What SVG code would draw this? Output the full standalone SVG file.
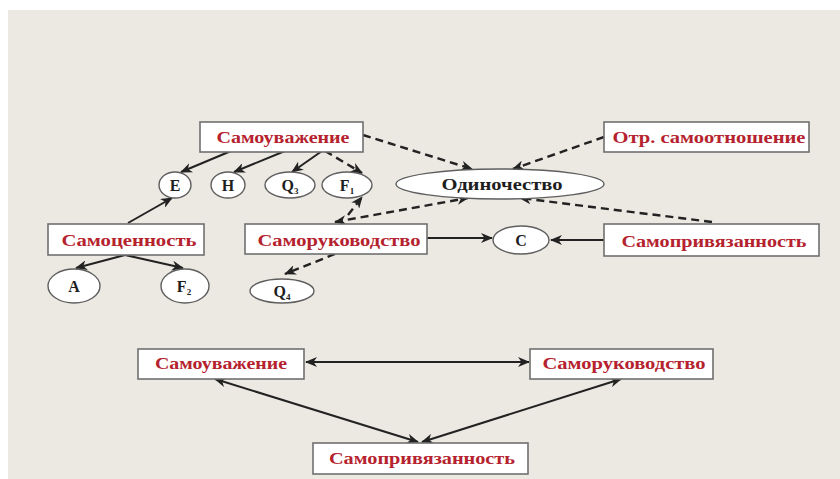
<svg xmlns="http://www.w3.org/2000/svg" width="840" height="479" viewBox="0 0 840 479">
  <style>
    .box { fill: #ffffff; stroke: #707070; stroke-width: 1.6; }
    .oval { fill: #ffffff; stroke: #5e5e5e; stroke-width: 1.4; }
    .lbl { font-family: "Liberation Serif", "Times New Roman", serif; font-weight: bold; font-size: 16.5px; fill: #b5222e; text-anchor: middle; }
    .sym { font-family: "Liberation Serif", "Times New Roman", serif; font-weight: bold; font-size: 16px; fill: #1e1e1e; text-anchor: middle; }
    .sub { font-size: 9px; }
    .solid { fill: none; stroke: #222222; stroke-width: 2; marker-end: url(#head); }
    .dash { fill: none; stroke: #222222; stroke-width: 2.4; stroke-dasharray: 8 5; marker-end: url(#head); }
    .both { marker-start: url(#head); }
  </style>
  <defs>
    <marker id="head" viewBox="0 0 12 10" refX="11" refY="5" markerWidth="12" markerHeight="10" markerUnits="userSpaceOnUse" orient="auto-start-reverse">
      <path d="M0,0 L12,5 L0,10 L3.5,5 z" fill="#222222"/>
    </marker>
  </defs>

  <!-- canvas -->
  <rect x="0" y="0" width="840" height="479" fill="#ffffff"/>
  <rect x="8" y="10" width="832" height="469" fill="#ece9e2"/>

  <!-- connectors -->
  <g id="connectors">
    <line class="solid" x1="231" y1="151" x2="181" y2="172"/>
    <line class="solid" x1="285" y1="151" x2="234" y2="172"/>
    <line class="solid" x1="322" y1="151" x2="292" y2="172"/>
    <line class="dash" x1="325" y1="151" x2="362" y2="173"/>
    <line class="solid" x1="128" y1="223" x2="172" y2="198"/>
    <line class="solid" x1="125" y1="255" x2="76" y2="268"/>
    <line class="solid" x1="125" y1="255" x2="183" y2="268"/>
    <line class="dash" x1="363" y1="135" x2="472" y2="169"/>
    <line class="dash" x1="604" y1="137" x2="513" y2="169"/>
    <line class="dash" x1="712" y1="222" x2="520" y2="198"/>
    <line class="dash both" x1="335" y1="222" x2="468" y2="198"/>
    <line class="dash" x1="348" y1="215" x2="362" y2="197"/>
    <line class="solid" x1="427" y1="238" x2="492" y2="238"/>
    <line class="solid" x1="604" y1="240" x2="551" y2="240"/>
    <line class="dash" x1="335" y1="254" x2="285" y2="274"/>

    <line class="solid both" x1="306" y1="362" x2="529" y2="362"/>
    <line class="solid both" x1="215" y1="379" x2="418" y2="442"/>
    <line class="solid both" x1="621" y1="379" x2="422" y2="442"/>
  </g>

  <!-- upper scheme -->
  <g id="samouvazhenie-top">
    <rect class="box" x="200" y="122" width="163" height="30"/>
    <text class="lbl" x="283" y="143" textLength="133" lengthAdjust="spacingAndGlyphs">Самоуважение</text>
  </g>
  <g id="otr-samootnoshenie">
    <rect class="box" x="604" y="122" width="205" height="30"/>
    <text class="lbl" x="709" y="143" textLength="193" lengthAdjust="spacingAndGlyphs">Отр. самоотношение</text>
  </g>
  <g id="node-e">
    <ellipse class="oval" cx="175" cy="185" rx="16" ry="13"/>
    <text class="sym" x="175" y="191">E</text>
  </g>
  <g id="node-h">
    <ellipse class="oval" cx="228" cy="185" rx="17" ry="13"/>
    <text class="sym" x="228" y="191">H</text>
  </g>
  <g id="node-q3">
    <ellipse class="oval" cx="290" cy="185" rx="25" ry="13"/>
    <text class="sym" x="290" y="191">Q<tspan class="sub" dy="3">3</tspan></text>
  </g>
  <g id="node-f1">
    <ellipse class="oval" cx="347" cy="185" rx="25" ry="13"/>
    <text class="sym" x="347" y="191">F<tspan class="sub" dy="3">1</tspan></text>
  </g>
  <g id="odinochestvo">
    <ellipse class="oval" cx="500" cy="184" rx="104" ry="15"/>
    <text class="sym" x="502" y="190" textLength="121" lengthAdjust="spacingAndGlyphs">Одиночество</text>
  </g>
  <g id="samocennost">
    <rect class="box" x="48" y="224" width="156" height="31"/>
    <text class="lbl" x="129" y="246" textLength="135" lengthAdjust="spacingAndGlyphs">Самоценность</text>
  </g>
  <g id="samorukovodstvo-top">
    <rect class="box" x="245" y="224" width="182" height="30"/>
    <text class="lbl" x="339" y="246" textLength="163" lengthAdjust="spacingAndGlyphs">Саморуководство</text>
  </g>
  <g id="node-c">
    <ellipse class="oval" cx="521" cy="240" rx="28" ry="14"/>
    <text class="sym" x="521" y="246">C</text>
  </g>
  <g id="samoprivyazannost-top">
    <rect class="box" x="604" y="224" width="215" height="32"/>
    <text class="lbl" x="714" y="247" textLength="185" lengthAdjust="spacingAndGlyphs">Самопривязанность</text>
  </g>
  <g id="node-a">
    <ellipse class="oval" cx="74" cy="286" rx="26" ry="17"/>
    <text class="sym" x="74" y="292">A</text>
  </g>
  <g id="node-f2">
    <ellipse class="oval" cx="185" cy="286" rx="24" ry="17"/>
    <text class="sym" x="184" y="292">F<tspan class="sub" dy="3">2</tspan></text>
  </g>
  <g id="node-q4">
    <ellipse class="oval" cx="282" cy="291" rx="32" ry="12"/>
    <text class="sym" x="282" y="297">Q<tspan class="sub" dy="3">4</tspan></text>
  </g>

  <!-- lower triangle -->
  <g id="samouvazhenie-bottom">
    <rect class="box" x="138" y="349" width="166" height="30"/>
    <text class="lbl" x="221" y="369" textLength="132" lengthAdjust="spacingAndGlyphs">Самоуважение</text>
  </g>
  <g id="samorukovodstvo-bottom">
    <rect class="box" x="530" y="349" width="183" height="30"/>
    <text class="lbl" x="624" y="369" textLength="163" lengthAdjust="spacingAndGlyphs">Саморуководство</text>
  </g>
  <g id="samoprivyazannost-bottom">
    <rect class="box" x="313" y="443" width="215" height="31"/>
    <text class="lbl" x="422" y="464" textLength="186" lengthAdjust="spacingAndGlyphs">Самопривязанность</text>
  </g>
</svg>
